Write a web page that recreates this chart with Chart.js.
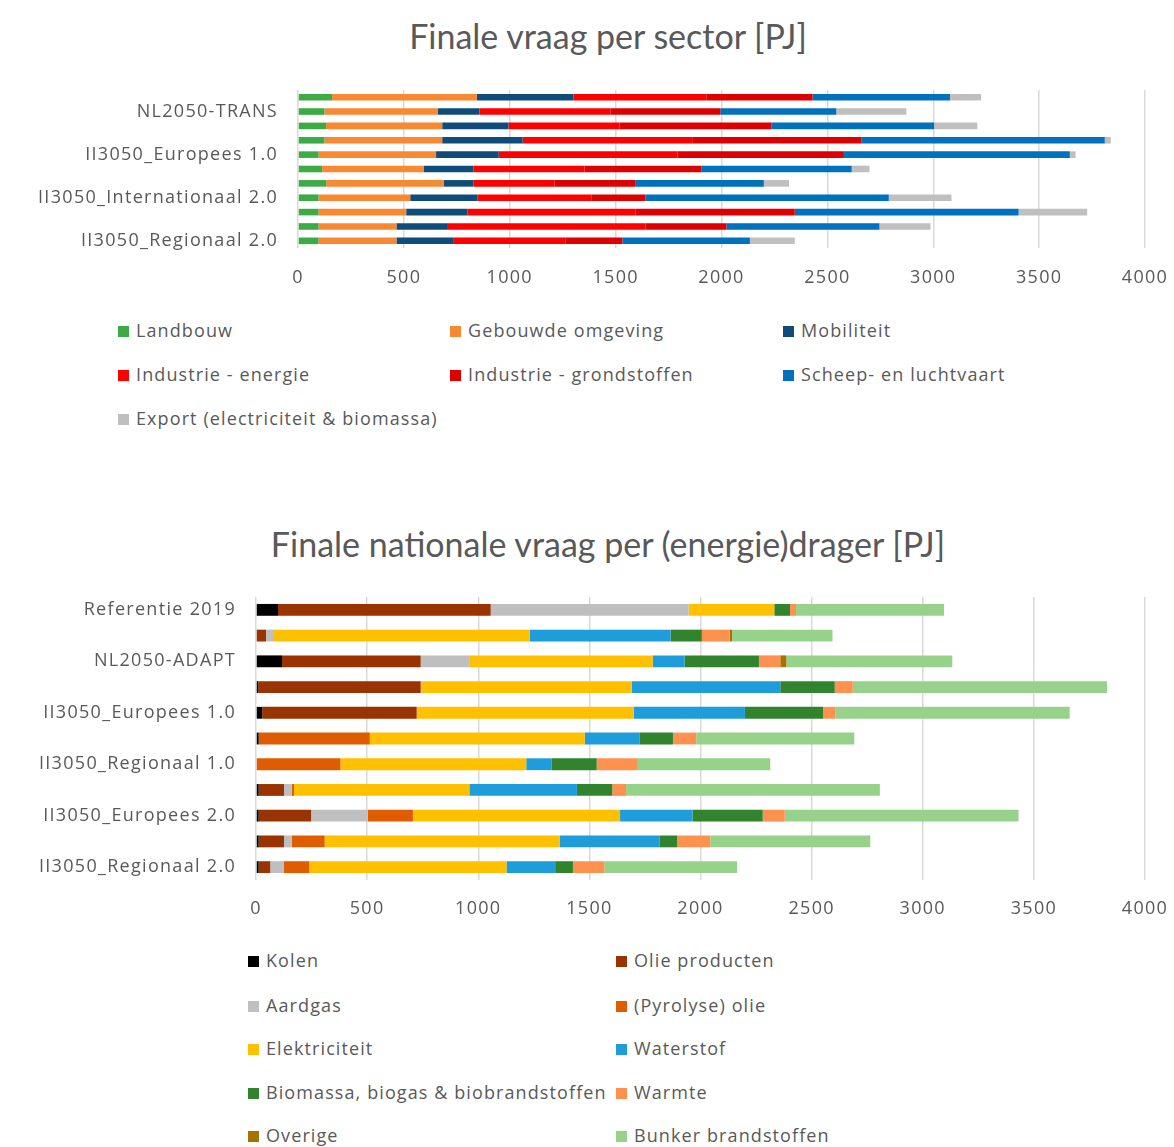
<!DOCTYPE html>
<html lang="nl">
<head>
  <meta charset="UTF-8">
  <title>Finale vraag</title>
  <script src="https://cdn.jsdelivr.net/npm/chart.js"></script>
  <style>
    body { margin: 0; background: #fff; font-family: 'Open Sans', sans-serif; color: #595959; }
    #pagina { position: relative; width: 1174px; height: 1147px; overflow: hidden; }
    .titel { position: absolute; left: 0; width: 1216px; text-align: center; font-family: Lato, sans-serif; font-size: 34px; line-height: 40px; }
    .grafiek { position: absolute; left: 0; width: 1174px; }
    .legenda { position: absolute; font-size: 18px; letter-spacing: 1.1px; }
    .legenda div { position: absolute; white-space: nowrap; line-height: 24px; }
    .legenda span { display: inline-block; width: 11px; height: 11px; margin-right: 7px; vertical-align: 0px; }
  </style>
</head>
<body>
<div id="pagina">
  <div class="titel" style="top:16px">Finale vraag per sector [PJ]</div>
  <div class="grafiek" style="top:78px;height:212px"><canvas id="sector"></canvas></div>
  <div class="legenda" id="legendaSector"></div>

  <div class="titel" style="top:524px">Finale nationale vraag per (energie)drager [PJ]</div>
  <div class="grafiek" style="top:585px;height:335px"><canvas id="drager"></canvas></div>
  <div class="legenda" id="legendaDrager"></div>
</div>

<script>
  // scenario's, van boven naar beneden
  const scenarios = ['Referentie 2019', 'NL2050-TRANS', 'NL2050-ADAPT',
    'II3050_Internationaal 1.0', 'II3050_Europees 1.0', 'II3050_Nationaal 1.0', 'II3050_Regionaal 1.0',
    'II3050_Internationaal 2.0', 'II3050_Europees 2.0', 'II3050_Nationaal 2.0', 'II3050_Regionaal 2.0'];
  const xTicks = [0, 500, 1000, 1500, 2000, 2500, 3000, 3500, 4000];

  // finale vraag per sector [PJ]
  const landbouw              = [161, 125, 133, 125,  97, 114, 133,   97,   97,  97,  97];
  const gebouwdeOmgeving      = [683, 535, 548, 556, 555, 481, 556,  433,  414, 368, 368];
  const mobiliteit            = [457, 197, 313, 380, 296, 233, 139,  317,  289, 243, 271];
  const industrieEnergie      = [627, 620, 525, 804, 845, 525, 383,  538,  795, 933, 526];
  const industrieGrondstoffen = [502, 517, 716, 797, 785, 551, 384,  256,  751, 382, 270];
  const scheepLuchtvaart      = [649, 548, 769, 1148, 1067, 711, 605, 1149, 1057, 723, 602];
  const exportStroom          = [147, 331, 204,  28,  27,  84, 119,  296,  324, 241, 212];

  // finale nationale vraag per drager [PJ]
  const kolen          = [ 99,    0, 117,  10,  28,  12,   0,   12,   12,   12,  12];
  const olieProducten  = [957,   45, 624, 731, 695,   0,   0,  114,  236,  114,  52];
  const aardgas        = [890,   36, 218,   0,   0,   0,   0,   35,  255,   35,  60];
  const pyrolyseOlie   = [  0,    0,   0,   0,   0, 500, 380,   10,  203,  148, 116];
  const elektriciteit  = [386, 1151, 826, 950, 977, 967, 836,  789,  932, 1057, 887];
  const waterstof      = [  0,  633, 143, 668, 500, 248, 115,  484,  326,  449, 219];
  const biomassa       = [ 71,  141, 335, 245, 352, 149, 202,  159,  316,   80,  80];
  const warmte         = [ 27,  125,  96,  81,  54, 105, 185,   62,   99,  149, 141];
  const overige        = [  0,   11,  27,   0,   0,   0,   0,    0,    0,    0,   0];
  const bunker         = [666,  452, 747, 1144, 1055, 711, 596, 1142, 1052, 720, 598];

  const tekstKleur = '#595959';
  Chart.defaults.font.family = "'Open Sans', sans-serif";
  Chart.defaults.color = tekstKleur;

  // Excel-tekst staat wat ruimer dan Open Sans
  const letterAfstand = {
    id: 'letterAfstand',
    beforeUpdate: chart => { chart.ctx.letterSpacing = '1.3px'; },
    beforeDraw: chart => { chart.ctx.letterSpacing = '1.3px'; }
  };

  function maakGrafiek(id, series, opties) {
    return new Chart(document.getElementById(id), {
      type: 'bar',
      data: {
        labels: scenarios,
        datasets: series.map(s => ({
          label: s.naam,
          data: s.data,
          backgroundColor: s.kleur,
          borderWidth: 0,
          barPercentage: opties.dikte,
          categoryPercentage: 1
        }))
      },
      plugins: [letterAfstand],
      options: {
        indexAxis: 'y',
        responsive: true,
        maintainAspectRatio: false,
        animation: false,
        layout: { padding: { top: opties.boven, right: 29, bottom: 0, left: 0 } },
        plugins: { legend: { display: false }, tooltip: { enabled: false } },
        scales: {
          x: {
            stacked: true,
            min: 0,
            max: 4000,
            afterBuildTicks: scale => { scale.ticks = xTicks.map(v => ({ value: v })); },
            afterFit: scale => { scale.height = opties.xHoogte; },
            grid: { color: '#D9D9D9', lineWidth: 1.5, drawTicks: true, tickLength: opties.xAfstand, tickColor: 'rgba(0,0,0,0)' },
            border: { display: false },
            ticks: { font: { size: 18 }, padding: 5, callback: v => String(v) }
          },
          y: {
            stacked: true,
            afterFit: scale => { scale.width = opties.links; },
            grid: { display: false, drawTicks: true, tickLength: 20 },
            border: { display: false },
            ticks: {
              autoSkip: false,
              font: { size: 18 },
              padding: 0,
              callback: (v, i) => (scenarios.length - 1 - i) % opties.stap === 0 ? scenarios[i] : ''
            }
          }
        }
      }
    });
  }

  function maakLegenda(id, chart, kolommen, rijen) {
    const el = document.getElementById(id);
    chart.data.datasets.forEach((ds, i) => {
      const d = document.createElement('div');
      const k = i % kolommen.length, r = Math.floor(i / kolommen.length);
      d.style.left = kolommen[k] + 'px';
      d.style.top = (rijen[r] - 12) + 'px';
      d.innerHTML = `<span style="background:${ds.backgroundColor}"></span>${ds.label}`;
      el.appendChild(d);
    });
  }

  const sectorChart = maakGrafiek('sector', [
    { naam: 'Landbouw', data: landbouw, kleur: '#3DAA45' },
    { naam: 'Gebouwde omgeving', data: gebouwdeOmgeving, kleur: '#F98833' },
    { naam: 'Mobiliteit', data: mobiliteit, kleur: '#0F4C7A' },
    { naam: 'Industrie - energie', data: industrieEnergie, kleur: '#FF0000' },
    { naam: 'Industrie - grondstoffen', data: industrieGrondstoffen, kleur: '#DE0000' },
    { naam: 'Scheep- en luchtvaart', data: scheepLuchtvaart, kleur: '#0071BC' },
    { naam: 'Export (electriciteit & biomassa)', data: exportStroom, kleur: '#BFBFBF' }
  ], { dikte: 0.46, boven: 12, links: 298, xHoogte: 42, xAfstand: 14, stap: 3 });

  const dragerChart = maakGrafiek('drager', [
    { naam: 'Kolen', data: kolen, kleur: '#000000' },
    { naam: 'Olie producten', data: olieProducten, kleur: '#993300' },
    { naam: 'Aardgas', data: aardgas, kleur: '#BFBFBF' },
    { naam: '(Pyrolyse) olie', data: pyrolyseOlie, kleur: '#E05C00' },
    { naam: 'Elektriciteit', data: elektriciteit, kleur: '#FFC000' },
    { naam: 'Waterstof', data: waterstof, kleur: '#1E9DDA' },
    { naam: 'Biomassa, biogas & biobrandstoffen', data: biomassa, kleur: '#31842D' },
    { naam: 'Warmte', data: warmte, kleur: '#FF914F' },
    { naam: 'Overige', data: overige, kleur: '#A87200' },
    { naam: 'Bunker brandstoffen', data: bunker, kleur: '#97D28A' }
  ], { dikte: 0.46, boven: 12, links: 256, xHoogte: 40, xAfstand: 13, stap: 2 });

  maakLegenda('legendaSector', sectorChart, [118, 450, 783], [330, 374, 418]);
  maakLegenda('legendaDrager', dragerChart, [248, 616], [960, 1005, 1048, 1092, 1135]);
</script>
</body>
</html>
